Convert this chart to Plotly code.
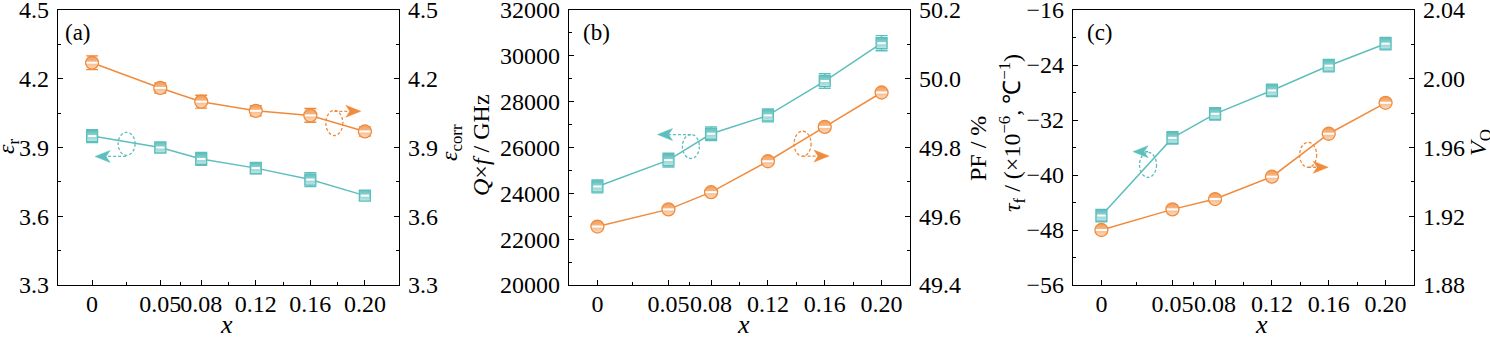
import plotly.graph_objects as go

# ---- data -------------------------------------------------------------
x_vals = [0, 0.05, 0.08, 0.12, 0.16, 0.20]
x_ticktext = ["0", "0.05", "0.08", "0.12", "0.16", "0.20"]
x_minor = [0.025, 0.065, 0.10, 0.14, 0.18]

eps_r = [3.95, 3.90, 3.85, 3.81, 3.76, 3.69]
eps_r_err = [0.028, 0.02, 0.028, 0.025, 0.03, 0.02]
eps_corr = [4.27, 4.16, 4.10, 4.06, 4.04, 3.97]
eps_corr_err = [0.03, 0.022, 0.028, 0.022, 0.03, 0.02]

qf = [24300, 25450, 26600, 27400, 28900, 30550]
qf_err = [280, 300, 300, 280, 320, 330]
pf = [49.57, 49.62, 49.67, 49.76, 49.86, 49.96]

tau_f = [-45.9, -34.6, -31.1, -27.7, -24.1, -20.9]
tau_f_err = [0.9, 0.9, 0.9, 0.9, 0.9, 0.9]
v_o = [1.912, 1.924, 1.930, 1.943, 1.968, 1.986]

# ---- styling ------------------------------------------------------------
W, H = 1490, 338
FONT = "Liberation Serif, Times New Roman, serif"
TEAL, TEAL_DARK, TEAL_LIGHT = "#5dbfbd", "#62c0be", "#bfe6e4"
ORANGE, ORANGE_DARK, ORANGE_LIGHT = "#f08b3d", "#f29b58", "#fbd9bd"
TICK_SIZE = 24
TITLE_SIZE = 24

PLOT_TOP, PLOT_BOT = 10, 285
PLOT_W, PLOT_H = 341, PLOT_BOT - PLOT_TOP
panel_left = [58, 569, 1073]
x_ranges = [[-0.025, 0.225], [-0.02, 0.22], [-0.02, 0.22]]
y_ranges = [([3.3, 4.5], [3.3, 4.5]),
            ([20000, 32000], [49.4, 50.2]),
            ([-56, -16], [1.88, 2.04])]
y_dticks = [(0.3, 0.3), (2000, 0.2), (8, 0.04)]
y_formats = [(".1f", ".1f"), ("d", ".1f"), ("d", ".2f")]

fig = go.Figure()


def add_series(xa, ya, y, err, color, dark, light, symbol, size):
    err_y = None
    if err is not None:
        err_y = dict(type="data", array=err, visible=True, color=color,
                     thickness=1.4, width=6)
    fig.add_trace(go.Scatter(
        x=x_vals, y=y, xaxis=xa, yaxis=ya, mode="lines+markers",
        line=dict(color=color, width=1.5),
        marker=dict(symbol=symbol, size=size, color=dark,
                    gradient=dict(type="vertical", color=light),
                    line=dict(color=color, width=1.3)),
        error_y=err_y, showlegend=False, hoverinfo="skip"))
    # white band across the middle of each marker
    fig.add_trace(go.Scatter(
        x=x_vals, y=y, xaxis=xa, yaxis=ya, mode="markers",
        marker=dict(symbol="line-ew", size=size - 5,
                    line=dict(color="white", width=2)),
        showlegend=False, hoverinfo="skip"))


# panel (a)
add_series("x", "y", eps_r, eps_r_err, TEAL, TEAL_DARK, TEAL_LIGHT, "square", 11)
add_series("x", "y2", eps_corr, eps_corr_err, ORANGE, ORANGE_DARK, ORANGE_LIGHT, "circle", 13)
# panel (b)
add_series("x2", "y3", qf, qf_err, TEAL, TEAL_DARK, TEAL_LIGHT, "square", 11)
add_series("x2", "y4", pf, None, ORANGE, ORANGE_DARK, ORANGE_LIGHT, "circle", 13)
# panel (c)
add_series("x3", "y5", tau_f, tau_f_err, TEAL, TEAL_DARK, TEAL_LIGHT, "square", 11)
add_series("x3", "y6", v_o, None, ORANGE, ORANGE_DARK, ORANGE_LIGHT, "circle", 13)

layout = dict(
    width=W, height=H, margin=dict(l=0, r=0, t=0, b=0),
    paper_bgcolor="white", plot_bgcolor="white",
    font=dict(family=FONT, size=TICK_SIZE, color="black"),
    template="none", showlegend=False,
)

ydom = [(H - PLOT_BOT) / H, (H - PLOT_TOP) / H]
axis_common = dict(showline=True, linecolor="black", linewidth=1.3,
                   ticks="inside", ticklen=5, tickwidth=1.2, tickcolor="black",
                   showgrid=False, zeroline=False, automargin=False,
                   ticklabeloverflow="allow", tickangle=0,
                   tickfont=dict(family=FONT, size=TICK_SIZE, color="black"))

for i in range(3):
    xn = "xaxis" if i == 0 else f"xaxis{i + 1}"
    yl = 2 * i + 1
    yr = 2 * i + 2
    yln = "yaxis" if yl == 1 else f"yaxis{yl}"
    yrn = f"yaxis{yr}"
    xid = "x" if i == 0 else f"x{i + 1}"
    ylid = "y" if yl == 1 else f"y{yl}"
    left = panel_left[i]
    layout[xn] = dict(axis_common, domain=[left / W, (left + PLOT_W) / W],
                      range=x_ranges[i], anchor=ylid, mirror=True,
                      tickmode="array", tickvals=x_vals, ticktext=x_ticktext,
                      ticklabelstandoff=-3,
                      minor=dict(tickmode="array", tickvals=x_minor,
                                 ticks="inside", ticklen=3, tickcolor="black"))
    (rl, rr), (dl, dr), (fl, fr) = y_ranges[i], y_dticks[i], y_formats[i]
    layout[yln] = dict(axis_common, domain=ydom, range=rl, anchor=xid,
                       tick0=rl[0], dtick=dl, tickformat=fl, mirror=True,
                       ticklabelstandoff=3,
                       minor=dict(dtick=dl / 2, tick0=rl[0], ticks="inside",
                                  ticklen=3, tickcolor="black"))
    layout[yrn] = dict(axis_common, domain=ydom, range=rr, anchor=xid,
                       overlaying=ylid, side="right",
                       tick0=rr[0], dtick=dr, tickformat=fr,
                       ticklabelstandoff=3,
                       minor=dict(dtick=dr / 2, tick0=rr[0], ticks="inside",
                                  ticklen=3, tickcolor="black"))

fig.update_layout(**layout)


# ---- text ---------------------------------------------------------------
def ptext(px, py, text, size=TITLE_SIZE, angle=0, yanchor="middle"):
    fig.add_annotation(x=px / W, y=(H - py) / H, xref="paper", yref="paper",
                       text=text, showarrow=False, textangle=angle,
                       font=dict(family=FONT, size=size, color="black"),
                       xanchor="center", yanchor=yanchor)


for lbl, px in zip(["(a)", "(b)", "(c)"], [78, 596, 1100]):
    ptext(px, 32, lbl, size=23)
for px in [226, 743, 1261]:
    ptext(px, H + 3, "<i>x</i>", size=26, yanchor="bottom")

ptext(8, 147, "<i>ε</i><sub>r</sub>", angle=-90)
ptext(451, 143, "<i>ε</i><sub>corr</sub>", angle=-90)
ptext(481, 145, "<i>Q</i>×<i>f</i> / GHz", angle=-90)
ptext(978, 149, "PF / %", angle=-90)
ptext(1012, 133, "<i>τ</i><sub>f</sub> / (×10<sup>−6</sup>, ℃<sup>−1</sup>)", angle=-90)
ptext(1480, 143, "<i>V</i><sub>O</sub>", angle=-90)


# ---- dashed ellipses with arrows that point to the matching axis ---------
def scale(panel, yaxis_side):
    xr = x_ranges[panel]
    yr = y_ranges[panel][yaxis_side]
    return (xr[1] - xr[0]) / PLOT_W, (yr[1] - yr[0]) / PLOT_H


HEAD_LEN, HEAD_HALF, NOTCH = 15, 6, 11


def axis_marker(panel, side, color, xc, yc, w_px, h_px, x_start, y_start,
                x_tip, y_tip, direction):
    xref = "x" if panel == 0 else f"x{panel + 1}"
    yn = 2 * panel + 1 + side
    yref = "y" if yn == 1 else f"y{yn}"
    sx, sy = scale(panel, side)
    dash = dict(color=color, width=1.3, dash="3px,2px")
    fig.add_shape(type="circle", xref=xref, yref=yref,
                  x0=xc - w_px / 2 * sx, x1=xc + w_px / 2 * sx,
                  y0=yc - h_px / 2 * sy, y1=yc + h_px / 2 * sy, line=dash)
    # shaft stops at the notch of the arrowhead
    x_notch = x_tip - direction * NOTCH * sx
    fig.add_shape(type="line", xref=xref, yref=yref,
                  x0=x_start, y0=y_start, x1=x_notch, y1=y_tip, line=dash)
    d = direction
    path = (f"M0,0 L{-d * HEAD_LEN},{HEAD_HALF} L{-d * NOTCH},0 "
            f"L{-d * HEAD_LEN},{-HEAD_HALF} Z")
    fig.add_shape(type="path", xref=xref, yref=yref,
                  xsizemode="pixel", ysizemode="pixel",
                  xanchor=x_tip, yanchor=y_tip, path=path,
                  fillcolor=color, line=dict(color=color, width=0.5))


axis_marker(0, 0, TEAL, 0.0253, 3.916, 17, 23, 0.0249, 3.861, 0.0022, 3.861, -1)
axis_marker(0, 1, ORANGE, 0.1776, 4.007, 17, 25, 0.1776, 4.058, 0.197, 4.058, 1)
axis_marker(1, 0, TEAL, 0.0658, 26043, 17, 24, 0.0658, 26565, 0.0423, 26565, -1)
axis_marker(1, 1, ORANGE, 0.1444, 49.811, 17, 25, 0.1444, 49.775, 0.163, 49.775, 1)
axis_marker(2, 0, TEAL, 0.0328, -38.53, 17, 25, 0.0328, -36.6, 0.0223, -36.6, -1)
axis_marker(2, 1, ORANGE, 0.1455, 1.9557, 17, 25, 0.1455, 1.9485, 0.1596, 1.9485, 1)

fig.write_html("out.html")
